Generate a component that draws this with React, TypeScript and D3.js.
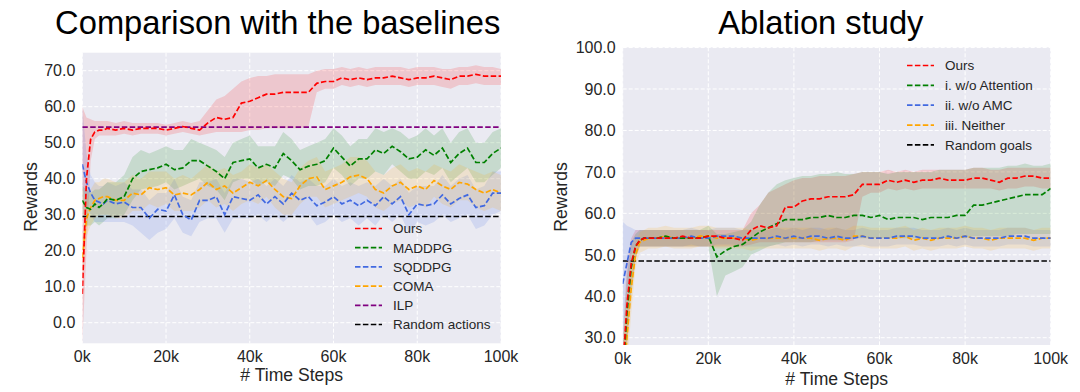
import React from "react";
import * as d3 from "d3";

// time steps in thousands
const steps = [
  0, 1, 2, 3, 4, 5, 6,
  8, 10, 12, 14, 16, 18, 20, 22, 24, 26, 28,
  30, 32, 34, 36, 38, 40, 42, 44, 46, 48, 50,
  52, 54, 56, 58, 60, 62, 64, 66, 68, 70, 72,
  74, 76, 78, 80, 82, 84, 86, 88, 90, 92, 94, 96, 98, 100,
];
const xTicks = [0, 20, 40, 60, 80, 100];

// ---- Comparison with the baselines ----
const oursMean = [
  8, 40, 51, 53, 53.5, 53.5, 54,
  53.5, 54, 53.5, 54, 54, 54, 53.5, 54, 54.5, 54, 53.5,
  55.5, 57, 56.5, 57, 61, 61.5, 62.5, 63.5, 63.5, 64, 64,
  64, 64, 66.5, 67, 67, 68, 67.5, 68, 67.5, 68, 68,
  68.5, 68, 67.5, 68, 68, 68.5, 68, 67.5, 68.5, 68.5, 69, 68.5, 68.5, 68.5,
];
const oursHi = [
  60, 57, 56.5, 56, 56, 56, 56,
  55.5, 56, 55.5, 55.5, 55.5, 55.5, 55, 55.5, 56, 55.5, 56,
  59, 62, 63, 65, 67, 68, 68.5, 68.5, 69, 69, 69,
  69, 69, 70, 70.5, 70.5, 71, 70.5, 71, 70.5, 71, 71,
  71, 71, 70.5, 71, 71, 71, 70.5, 70.5, 71, 71, 71.5, 71, 71, 70.5,
];
const oursLo = [
  -6, 20, 45, 51, 52, 52, 52,
  52, 52.5, 52, 52.5, 52.5, 52.5, 52, 52.5, 53, 52.5, 52,
  52.5, 53, 53, 53, 53, 53.5, 53.5, 54, 54, 54, 54,
  54, 54.5, 64, 65, 65, 66, 65.5, 66, 65.5, 66, 66,
  66, 66, 65.5, 66, 66, 66, 65.5, 65, 66, 66, 66.5, 66, 66, 66,
];
const maddpgMean = [
  34, 32, 31.5, 33, 32, 33, 34.5,
  34, 35, 40, 42, 42.5, 43, 44, 42.5, 43, 45, 45,
  43.5, 42, 40, 44.5, 45, 45.5, 43, 44, 43, 47, 45,
  42.5, 43.5, 44, 45, 48.5, 46, 43.5, 45.5, 45.5, 48, 47,
  49, 47.5, 45.5, 46, 48, 46.5, 48.5, 44.5, 47, 48.5, 44.5, 44.5, 47, 48.5,
];
const maddpgHi = [
  38, 37, 36, 37, 37, 38, 39,
  39, 41, 46, 48, 47, 48, 49, 48, 48, 51, 50,
  49, 48, 46, 50, 51, 52, 49, 49, 49, 53, 51,
  48, 49, 50, 51, 54, 52, 49, 51, 51, 54, 53,
  54, 53, 51, 52, 54, 52, 54, 50, 53, 54, 50, 50, 53, 54,
];
const maddpgLo = [
  30, 27, 27, 28, 27, 28, 29,
  29, 30, 34, 37, 37.5, 38, 39, 37, 38, 39, 40,
  38, 37, 34, 39, 40, 40, 38, 39, 38, 41, 40,
  37, 38, 38, 39, 43, 41, 38, 40, 40, 42, 41,
  44, 42, 40, 40, 42, 41, 43, 39, 41, 43, 39, 39, 41, 43,
];
const sqddpgMean = [
  44, 39, 36, 34, 33.5, 33, 34,
  33, 33.5, 32, 32, 29, 31.5, 31, 35.5, 30, 28.5, 34,
  34, 35, 30, 35, 34.5, 34, 35.5, 33, 35, 33, 36,
  34, 35, 32.5, 33.5, 35, 33, 34, 32.5, 34, 32.5, 35,
  33, 35, 30, 33, 32.5, 33, 35.5, 33, 34.5, 35.5, 32, 32.5, 36, 36,
];
const sqddpgHi = [
  60, 47, 41, 39, 38, 38, 39,
  38, 39, 37, 37, 34, 36, 36, 40, 35, 34, 39,
  39, 40, 36, 40, 40, 39, 40, 38, 40, 38, 41,
  39, 40, 38, 38, 40, 38, 39, 38, 39, 38, 40,
  38, 40, 36, 38, 38, 38, 41, 38, 40, 41, 37, 38, 42, 42,
];
const sqddpgLo = [
  38, 33, 30, 28, 28, 28, 28,
  28, 28, 27, 25, 23, 25, 26, 29, 25, 24, 28,
  29, 29, 25, 29, 29, 29, 30, 28, 30, 28, 30,
  29, 30, 27, 28, 30, 28, 29, 27, 29, 27, 30,
  28, 30, 25, 28, 27, 28, 30, 28, 29, 30, 26, 27, 30, 31,
];
const comaMean = [
  18, 29, 32, 34, 34.5, 35, 35,
  34, 34, 36, 35.5, 37.5, 37, 37.5, 35.5, 36, 35.5, 37,
  39, 37, 38, 36, 37.5, 39, 38, 39.5, 37, 35, 34.5,
  38, 40, 40.5, 37, 38, 39, 40.5, 41, 40, 37, 36,
  38, 39, 37, 38, 37, 39.5, 38, 37, 39, 38.5, 37, 36, 37, 36,
];
const comaHi = [
  24, 34, 37, 39, 39, 40, 40,
  39, 39, 41, 40, 42, 42, 42, 40, 41, 40, 42,
  44, 42, 43, 41, 42, 44, 43, 44, 42, 40, 39,
  43, 45, 46, 42, 43, 44, 46, 46, 45, 42, 41,
  43, 44, 42, 43, 42, 44, 43, 42, 44, 43, 42, 41, 42, 41,
];
const comaLo = [
  12, 24, 27, 29, 30, 30, 30,
  29, 29, 31, 31, 33, 32, 33, 31, 31, 31, 32,
  34, 32, 33, 31, 33, 34, 33, 35, 32, 30, 30,
  33, 35, 35, 32, 33, 34, 35, 36, 35, 32, 31,
  33, 34, 32, 33, 32, 35, 33, 32, 34, 34, 32, 31, 32, 31,
];
const ilpValue = 54.3;
const randomActionsValue = 29.5;
const leftYTicks = [0, 10, 20, 30, 40, 50, 60, 70];

// ---- Ablation study ----
const ablOursMean = [
  22, 38, 48, 52, 53.5, 54, 54,
  54, 54, 54, 54.5, 54, 54, 54.5, 54.5, 54, 54, 53.5,
  56, 57, 56.5, 57, 61.5, 61.5, 63, 63.5, 63.5, 64, 64,
  64, 64.5, 67, 67, 67, 68, 67.5, 68, 67.5, 68, 68,
  68.5, 68, 68, 68, 68.5, 68.5, 68, 67.5, 68.5, 68.5, 69, 69, 68.5, 68.5,
];
const ablOursHi = [
  30, 48, 54, 56, 56, 56, 56,
  56, 56, 56, 56, 56, 56, 56, 56, 56, 56, 56,
  60, 62, 65, 66, 67, 68, 68.5, 68.5, 69, 69, 69,
  69, 69.5, 70, 70, 70, 70.5, 70, 70.5, 70, 70.5, 70.5,
  70.5, 70.5, 70.5, 70.5, 71, 71, 70.5, 70.5, 71, 71, 71, 71, 71, 71,
];
const ablOursLo = [
  14, 28, 42, 49, 52, 52, 52,
  52, 52, 52, 52, 52, 52, 52, 52, 52, 52, 52,
  52.5, 53, 53, 53, 53, 53, 53, 53, 53, 53, 53,
  53, 53.5, 64, 65, 65, 66, 65.5, 66, 65.5, 66, 66,
  66, 66, 66, 66, 66, 66, 66, 65.5, 66, 66, 66.5, 66.5, 66, 66,
];
const noAttnMean = [
  20, 36, 47, 52, 53.5, 54, 54,
  54, 54.5, 54, 54, 54, 54, 54.5, 49.5, 51, 52, 52.5,
  54, 55.5, 56.5, 57.5, 58.5, 58.5, 58.5, 59, 59, 59.5, 59,
  59, 59.5, 59.5, 59, 59.5, 58.5, 59, 59, 59, 58.5, 59,
  59, 59, 59.5, 59.5, 62, 62, 62.5, 63, 63.5, 64, 64.5, 64.5, 64.5, 66,
];
const noAttnHi = [
  28, 45, 53, 55, 56, 56, 56,
  56, 56, 56, 56, 56, 56, 57, 55, 55, 55.5, 56,
  58, 62, 65, 67, 68, 68.5, 69, 69, 69.5, 69.5, 70,
  69.5, 69.5, 70, 70, 70, 69.5, 70, 70, 70, 70, 70,
  70.5, 70.5, 70.5, 70.5, 71, 71, 71, 71, 71.5, 71.5, 72, 71.5, 71.5, 72,
];
const noAttnLo = [
  12, 28, 40, 49, 52, 52, 52,
  52, 52, 52, 52, 52, 52, 52, 40, 45, 46, 47,
  50, 51, 52, 52.5, 53, 53, 53, 53, 53.5, 53.5, 53.5,
  53.5, 54, 54, 54, 54, 54, 54, 54, 54, 54, 54,
  54, 54, 54, 54, 54.5, 54.5, 54.5, 54.5, 54.5, 55, 55, 55, 55, 55,
];
const noAmcMean = [
  43, 48, 53, 54, 54, 54, 54,
  54, 54, 54, 54, 54.5, 54, 54, 54.5, 54.5, 54.5, 54,
  54, 54, 54, 54.5, 54, 54.5, 54, 54.5, 54.5, 54, 54.5,
  54, 54, 54.5, 54, 54, 54, 54.5, 54.5, 54.5, 54, 54,
  54, 54.5, 54, 54.5, 54, 54, 54, 54, 54.5, 54.5, 54.5, 54, 54, 54,
];
const noAmcHi = [
  58, 57, 56.5, 56, 56, 56, 56,
  56, 56, 56, 56, 56.5, 56, 56, 56.5, 56.5, 56.5, 56,
  56, 56, 56, 56.5, 56, 56.5, 56, 56.5, 56.5, 56, 56.5,
  56, 56, 56.5, 56, 56, 56, 56.5, 56.5, 56.5, 56, 56,
  56, 56.5, 56, 56.5, 56, 56, 56, 56, 56.5, 56.5, 56.5, 56, 56, 56,
];
const noAmcLo = [
  30, 40, 50, 52, 52, 52, 52,
  52, 52, 52, 52, 52.5, 52, 52, 52.5, 52.5, 52.5, 52,
  52, 52, 52, 52.5, 52, 52.5, 52, 52.5, 52.5, 52, 52.5,
  52, 52, 52.5, 52, 52, 52, 52.5, 52.5, 52.5, 52, 52,
  52, 52.5, 52, 52.5, 52, 52, 52, 52, 52.5, 52.5, 52.5, 52, 52, 52,
];
const neitherMean = [
  18, 30, 42, 50, 53, 53.5, 54,
  54, 54.5, 54, 54, 54, 54.5, 54.5, 54, 54, 54, 54,
  53.5, 54, 54, 54, 54, 54, 54, 54, 53.5, 54, 54,
  53.5, 54.5, 54.5, 54, 54, 54, 54, 54.5, 53.5, 54, 53.5,
  54, 54, 54, 54.5, 54, 54, 53.5, 54, 54, 54, 54, 53.5, 54, 54,
];
const neitherHi = [
  26, 38, 48, 53, 55.5, 56, 56.5,
  56.5, 57, 56.5, 56.5, 56.5, 57, 57, 56.5, 56.5, 56.5, 56.5,
  56, 56.5, 56.5, 56.5, 56.5, 56.5, 56.5, 56.5, 56, 56.5, 56.5,
  56, 57, 57, 56.5, 56.5, 56.5, 56.5, 57, 56, 56.5, 56,
  56.5, 56.5, 56.5, 57, 56.5, 56.5, 56, 56.5, 56.5, 56.5, 56.5, 56, 56.5, 56.5,
];
const neitherLo = [
  10, 22, 36, 47, 50.5, 51, 51.5,
  51.5, 52, 51.5, 51.5, 51.5, 52, 52, 51.5, 51.5, 51.5, 51.5,
  51, 51.5, 51.5, 51.5, 51.5, 51.5, 51.5, 51.5, 51, 51.5, 51.5,
  51, 52, 52, 51.5, 51.5, 51.5, 51.5, 52, 51, 51.5, 51,
  51.5, 51.5, 51.5, 52, 51.5, 51.5, 51, 51.5, 51.5, 51.5, 51.5, 51, 51.5, 51.5,
];
const randomGoalsValue = 48.5;
const rightYTicks = [30, 40, 50, 60, 70, 80, 90, 100];

type Series = { label: string; color: string; mean?: number[]; lo?: number[]; hi?: number[]; flat?: number };

const baselineSeries: Series[] = [
  { label: "Ours", color: "#ff0000", mean: oursMean, lo: oursLo, hi: oursHi },
  { label: "MADDPG", color: "#008000", mean: maddpgMean, lo: maddpgLo, hi: maddpgHi },
  { label: "SQDDPG", color: "#4169e1", mean: sqddpgMean, lo: sqddpgLo, hi: sqddpgHi },
  { label: "COMA", color: "#ffa500", mean: comaMean, lo: comaLo, hi: comaHi },
  { label: "ILP", color: "#800080", flat: ilpValue },
  { label: "Random actions", color: "#000000", flat: randomActionsValue },
];

const ablationSeries: Series[] = [
  { label: "Ours", color: "#ff0000", mean: ablOursMean, lo: ablOursLo, hi: ablOursHi },
  { label: "i. w/o Attention", color: "#008000", mean: noAttnMean, lo: noAttnLo, hi: noAttnHi },
  { label: "ii. w/o AMC", color: "#4169e1", mean: noAmcMean, lo: noAmcLo, hi: noAmcHi },
  { label: "iii. Neither", color: "#ffa500", mean: neitherMean, lo: neitherLo, hi: neitherHi },
  { label: "Random goals", color: "#000000", flat: randomGoalsValue },
];

const FONT = "'Liberation Sans', Arial, sans-serif";
const DASH = "5.5,2.4";

type PanelProps = {
  id: string;
  title: string;
  titleX: number;
  left: number; right: number; top: number; bottom: number;
  yDomain: [number, number];
  yTicks: number[];
  series: Series[];
  legendX: number; legendY: number; legendStep: number;
  xLabelY: number; yLabelX: number; yLabelY: number; xTickY: number;
};

function Panel(p: PanelProps) {
  const x = d3.scaleLinear().domain([0, 100]).range([p.left, p.right]);
  const y = d3.scaleLinear().domain(p.yDomain).range([p.bottom, p.top]);
  const line = d3.line<number>().x((_, i) => x(steps[i])).y((d) => y(d));
  const band = (s: Series) =>
    d3
      .area<number>()
      .x((_, i) => x(steps[i]))
      .y0((_, i) => y(s.lo![i]))
      .y1((_, i) => y(s.hi![i]))(s.hi!);
  const clip = `clip-${p.id}`;
  return (
    <g>
      <text x={p.titleX} y={34} fontSize={32.7} textAnchor="middle" fill="#000">{p.title}</text>
      <rect x={p.left} y={p.top} width={p.right - p.left} height={p.bottom - p.top} fill="#eaeaf2" />
      <defs>
        <clipPath id={clip}>
          <rect x={p.left} y={p.top} width={p.right - p.left} height={p.bottom - p.top} />
        </clipPath>
      </defs>
      {xTicks.map((t) => (
        <line key={"gx" + t} x1={x(t)} x2={x(t)} y1={p.top} y2={p.bottom} stroke="#fff" strokeWidth={1} strokeDasharray="4,2" />
      ))}
      {p.yTicks.map((t) => (
        <line key={"gy" + t} x1={p.left} x2={p.right} y1={y(t)} y2={y(t)} stroke="#fff" strokeWidth={1} strokeDasharray="4,2" />
      ))}
      <g clipPath={`url(#${clip})`}>
        {p.series.filter((s) => s.hi).map((s) => (
          <path key={"b" + s.label} d={band(s) || ""} fill={s.color} fillOpacity={0.15} stroke="none" />
        ))}
        {p.series.filter((s) => s.flat !== undefined).map((s) => (
          <line key={"f" + s.label} x1={x(0)} x2={x(100)} y1={y(s.flat!)} y2={y(s.flat!)} stroke={s.color} strokeWidth={1.7} strokeDasharray={DASH} />
        ))}
        {p.series.filter((s) => s.mean).slice().reverse().map((s) => (
          <path key={"l" + s.label} d={line(s.mean!) || ""} fill="none" stroke={s.color} strokeWidth={1.7} strokeDasharray={DASH} />
        ))}
      </g>
      {xTicks.map((t) => (
        <text key={"tx" + t} x={x(t)} y={p.xTickY} fontSize={16} textAnchor="middle" fill="#262626">{t}k</text>
      ))}
      {p.yTicks.map((t) => (
        <text key={"ty" + t} x={p.left - 7} y={y(t) + 5.7} fontSize={16} textAnchor="end" fill="#262626">{t.toFixed(1)}</text>
      ))}
      <text x={(p.left + p.right) / 2} y={p.xLabelY} fontSize={17.6} textAnchor="middle" fill="#262626"># Time Steps</text>
      <text transform={`translate(${p.yLabelX},${p.yLabelY}) rotate(-90)`} fontSize={17.6} textAnchor="middle" dominantBaseline="central" fill="#262626">Rewards</text>
      {p.series.map((s, i) => {
        const ly = p.legendY + i * p.legendStep;
        return (
          <g key={"lg" + s.label}>
            <line x1={p.legendX} x2={p.legendX + 27} y1={ly} y2={ly} stroke={s.color} strokeWidth={1.7} strokeDasharray={DASH} />
            <text x={p.legendX + 38} y={ly + 4.8} fontSize={13.5} fill="#262626">{s.label}</text>
          </g>
        );
      })}
    </g>
  );
}

export default function App() {
  return (
    <svg width={1080} height={392} style={{ position: "absolute", left: 0, top: 0, fontFamily: FONT }}>
      <rect width={1080} height={392} fill="#fff" />
      <Panel
        id="left" title="Comparison with the baselines" titleX={277.7}
        left={82.3} right={501} top={52.7} bottom={343.3}
        yDomain={[-5.72, 75]} yTicks={leftYTicks} series={baselineSeries}
        legendX={355} legendY={228.5} legendStep={19.2}
        xLabelY={380.5} yLabelX={31} yLabelY={197} xTickY={361.5}
      />
      <Panel
        id="right" title="Ablation study" titleX={820.8}
        left={622.7} right={1050.7} top={47.3} bottom={345}
        yDomain={[28.24, 100.06]} yTicks={rightYTicks} series={ablationSeries}
        legendX={907} legendY={65.5} legendStep={19.85}
        xLabelY={384.5} yLabelX={561} yLabelY={197} xTickY={364}
      />
    </svg>
  );
}
